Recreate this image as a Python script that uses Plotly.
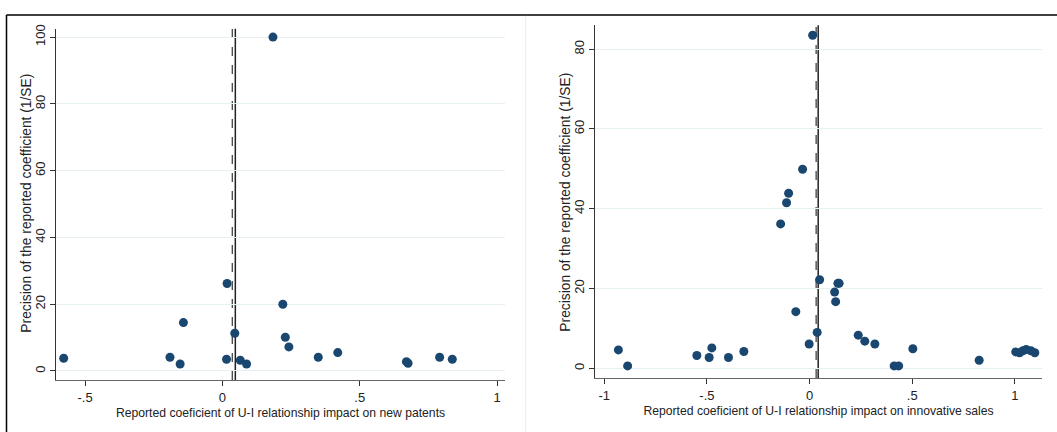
import plotly.graph_objects as go

# Left panel: new patents
pat_coef = [-0.578, -0.191, -0.154, -0.142, 0.017, 0.015, 0.045, 0.065, 0.088, 0.184,
            0.220, 0.229, 0.242, 0.349, 0.420, 0.670, 0.676, 0.791, 0.837]
pat_prec = [3.8, 4.1, 2.1, 14.5, 26.2, 3.5, 11.3, 3.2, 2.1, 100.0,
            20.0, 10.1, 7.2, 4.1, 5.5, 2.8, 2.3, 4.1, 3.5]
pat_dashed = 0.036
pat_solid = 0.047

# Right panel: innovative sales
sal_coef = [-0.931, -0.886, -0.549, -0.489, -0.476, -0.395, -0.320, -0.141, -0.112, -0.102,
            -0.067, -0.034, -0.002, 0.015, 0.037, 0.049, 0.122, 0.127, 0.138, 0.144,
            0.237, 0.269, 0.318, 0.412, 0.434, 0.503, 0.826,
            1.004, 1.023, 1.039, 1.055, 1.078, 1.097]
sal_prec = [4.6, 0.6, 3.2, 2.7, 5.1, 2.7, 4.2, 36.2, 41.5, 43.9,
            14.2, 49.9, 6.1, 83.5, 9.0, 22.2, 19.1, 16.7, 21.3, 21.3,
            8.3, 6.8, 6.1, 0.6, 0.6, 4.9, 2.0,
            4.1, 3.9, 4.4, 4.7, 4.4, 3.9]
sal_dashed = 0.032
sal_solid = 0.042

x1_ticks = [-0.5, 0, 0.5, 1]
x1_labels = ["-.5", "0", ".5", "1"]
y1_ticks = [0, 20, 40, 60, 80, 100]
x2_ticks = [-1, -0.5, 0, 0.5, 1]
x2_labels = ["-1", "-.5", "0", ".5", "1"]
y2_ticks = [0, 20, 40, 60, 80]

y_title = "Precision of the reported coefficient (1/SE)"
x1_title = "Reported coeficient of U-I relationship impact on new patents"
x2_title = "Reported coeficient of U-I relationship impact on innovative sales"

W, H = 1057, 432
MARKER = "#1a476f"
GRID = "#e6eff1"
FONT = "Liberation Sans, Arial, sans-serif"

def px(x):
    return x / W

def py(y):
    return (H - y) / H

fig = go.Figure()
fig.add_trace(go.Scatter(x=pat_coef, y=pat_prec, mode="markers", xaxis="x", yaxis="y",
                         marker=dict(color=MARKER, size=9), showlegend=False))
fig.add_trace(go.Scatter(x=sal_coef, y=sal_prec, mode="markers", xaxis="x2", yaxis="y2",
                         marker=dict(color=MARKER, size=9), showlegend=False))

x_common = dict(showline=True, ticks="outside", ticklen=5, zeroline=False, showgrid=False,
                linecolor="#666", tickcolor="#333",
                tickfont=dict(family=FONT, size=13, color="#222"),
                title_font=dict(family=FONT, size=12.2, color="#222"))
y_common = dict(showline=True, ticks="outside", ticklen=5, zeroline=False, showgrid=True,
                gridcolor=GRID, tickangle=-90, linecolor="#333", tickcolor="#333",
                tickfont=dict(family=FONT, size=13, color="#222"))

fig.update_layout(
    width=W, height=H,
    margin=dict(l=0, r=0, t=0, b=0),
    paper_bgcolor="white", plot_bgcolor="white",
    font=dict(family=FONT),
    xaxis=dict(domain=[px(56), px(505)], range=[-0.606, 1.029], anchor="y",
               tickvals=x1_ticks, ticktext=x1_labels,
               title=dict(text=x1_title, standoff=4),
               **x_common),
    yaxis=dict(domain=[py(379.5), py(25)], range=[-2.7, 102.5], anchor="x",
               tickvals=y1_ticks, **y_common),
    xaxis2=dict(domain=[px(595), px(1042)], range=[-1.045, 1.132], anchor="y2",
                tickvals=x2_ticks, ticktext=x2_labels,
                title=dict(text=x2_title, standoff=4),
                **x_common),
    yaxis2=dict(domain=[py(377.5), py(21.5)], range=[-2.44, 86], anchor="x2",
                tickvals=y2_ticks, **y_common),
)

# y axis titles
for xc, yc in [(27, 201.5), (566, 200.5)]:
    fig.add_annotation(text=y_title, xref="paper", yref="paper", x=px(xc), y=py(yc),
                       textangle=-90, showarrow=False, xanchor="center", yanchor="middle",
                       font=dict(family=FONT, size=13.8, color="#222"))

# reference lines
for xr, yr, xd, xs in [("x", "y", pat_dashed, pat_solid), ("x2", "y2", sal_dashed, sal_solid)]:
    fig.add_shape(type="line", xref=xr, yref=yr + " domain", x0=xd, x1=xd, y0=0, y1=1,
                  line=dict(color="#444", width=1.3, dash="dash"), layer="below")
    fig.add_shape(type="line", xref=xr, yref=yr + " domain", x0=xs, x1=xs, y0=0, y1=1,
                  line=dict(color="#222", width=1.5), layer="below")

# outer frame (top and left) and panel divider
fig.add_shape(type="line", xref="paper", yref="paper", x0=px(6.5), x1=1, y0=py(11), y1=py(11),
              line=dict(color="black", width=1.5))
fig.add_shape(type="line", xref="paper", yref="paper", x0=px(6.5), x1=px(6.5), y0=0, y1=py(11),
              line=dict(color="black", width=1.5))
fig.add_shape(type="line", xref="paper", yref="paper", x0=px(525.7), x1=px(525.7), y0=0, y1=py(12),
              line=dict(color="#e8eff1", width=1))

fig.write_html("out.html", config={"displayModeBar": False},
               post_script="document.body.style.margin='0px';document.body.style.padding='0px';")
